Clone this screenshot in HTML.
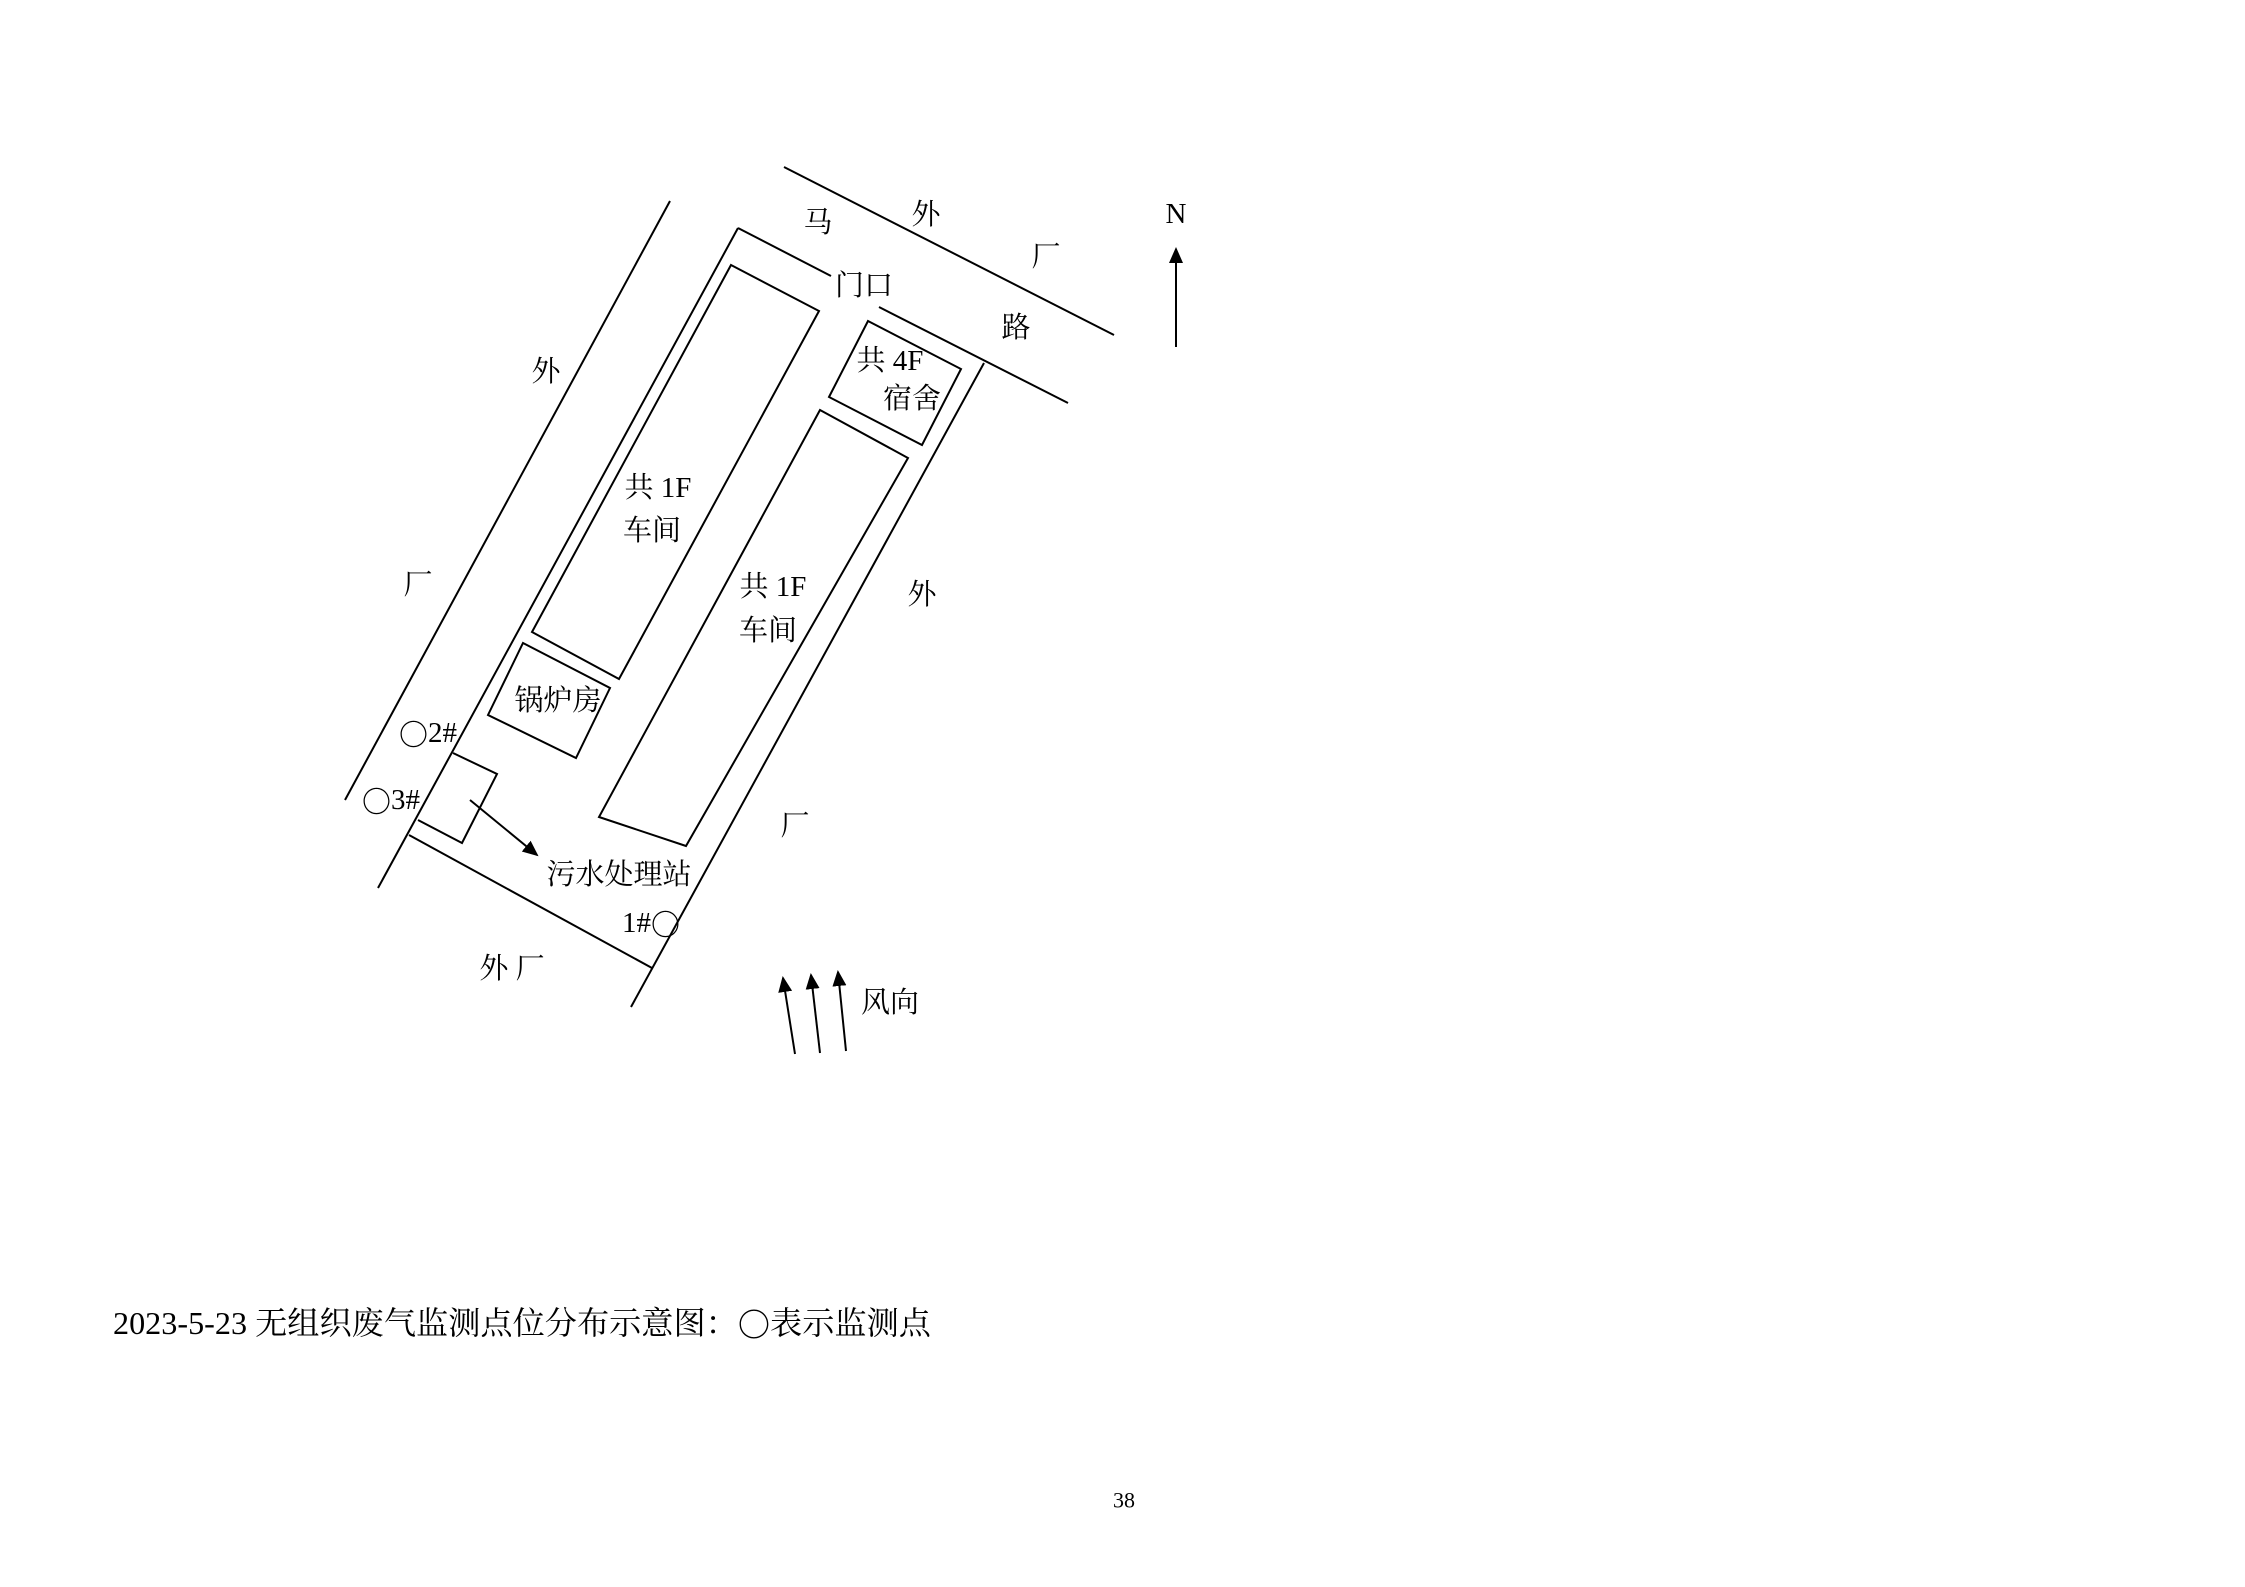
<!DOCTYPE html>
<html><head><meta charset="utf-8"><style>
html,body{margin:0;padding:0;background:#fff;}
svg{display:block;}
text{font-family:"Liberation Serif","Noto Serif CJK SC","Noto Sans CJK SC",serif;fill:#000;}
.c{font-family:"Noto Serif CJK SC","Noto Sans CJK SC",serif;}
</style></head><body>
<svg width="2245" height="1587" viewBox="0 0 2245 1587" xmlns="http://www.w3.org/2000/svg">
<defs>
<marker id="ah2" markerWidth="16" markerHeight="20" refX="14" refY="8" orient="auto" markerUnits="userSpaceOnUse" viewBox="0 0 16 16"><path d="M0,1 L16,8 L0,15 z" fill="#000"/></marker></defs>
<g transform="translate(-4,-3)">
<g stroke="#000" stroke-width="2" fill="none">
<line x1="788" y1="170" x2="1118" y2="338"/>
<line x1="883" y1="310" x2="1072" y2="406"/>
<line x1="674" y1="204" x2="349" y2="803"/>
<line x1="742" y1="231" x2="382" y2="891"/>
<line x1="742" y1="231" x2="835" y2="279"/>
<line x1="413" y1="838" x2="656" y2="971"/>
<line x1="988" y1="366" x2="635" y2="1010"/>
<polygon points="735,268 823,314 623,682 536,635"/>
<polygon points="527,646 614,691 580,761 492,718"/>
<polygon points="824,413 912,461 690,849 603,820"/>
<polygon points="872,324 965,372 926,448 833,400"/>
<polyline points="457,756 501,777 466,846 422,823"/>
<line x1="474" y1="803" x2="541" y2="858" marker-end="url(#ah2)"/>
<line x1="1180" y1="350" x2="1180" y2="252" marker-end="url(#ah2)"/>
<line x1="799" y1="1057" x2="787" y2="981" marker-end="url(#ah2)"/>
<line x1="824" y1="1056" x2="815" y2="978" marker-end="url(#ah2)"/>
<line x1="850" y1="1054" x2="842" y2="975" marker-end="url(#ah2)"/>
</g>
<g font-size="29" text-anchor="middle" dominant-baseline="central">
<text x="1180" y="217">N</text>
<text x="822" y="226">马</text>
<text x="930" y="218">外</text>
<text x="1050" y="260">厂</text>
<text x="1020" y="331">路</text>
<text x="868" y="289">门口</text>
<text x="550" y="375">外</text>
<text x="422" y="588">厂</text>
<text x="662" y="491">共 1F</text>
<text x="656" y="534">车间</text>
<text x="777" y="590">共 1F</text>
<text x="772" y="634">车间</text>
<text x="926" y="598">外</text>
<text x="894" y="364">共 4F</text>
<text x="916" y="402">宿舍</text>
<text x="562" y="704">锅炉房</text>
<text x="432" y="736"><tspan class="c">〇</tspan>2#</text>
<text x="395" y="803"><tspan class="c">〇</tspan>3#</text>
<text x="799" y="829">厂</text>
<text x="623" y="878">污水处理站</text>
<text x="655" y="926">1#<tspan class="c">〇</tspan></text>
<text x="516" y="972">外  厂</text>
<text x="894" y="1006">风向</text>
</g>
</g>
<text x="113" y="1323" font-size="32" dominant-baseline="central" textLength="818" lengthAdjust="spacingAndGlyphs">2023-5-23 无组织废气监测点位分布示意图：<tspan class="c">〇</tspan>表示监测点</text>
<text x="1124" y="1500" font-size="22" text-anchor="middle" dominant-baseline="central">38</text>
</svg>
</body></html>
